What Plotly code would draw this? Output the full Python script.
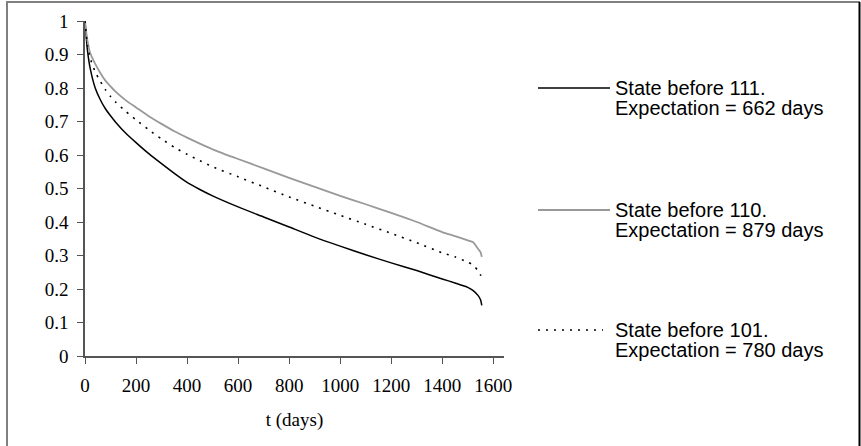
import plotly.graph_objects as go

# ---- data ----
t_days = [0, 5, 10, 20, 40, 60, 80, 100, 120, 160, 200, 250, 300, 350, 400,
          450, 500, 600, 700, 800, 900, 1000, 1100, 1200, 1300, 1400, 1450,
          1500, 1520, 1540, 1550, 1555]
s111 = [1.0, 0.95, 0.91, 0.86, 0.80, 0.765, 0.738, 0.717, 0.698, 0.665, 0.637,
        0.604, 0.574, 0.545, 0.518, 0.497, 0.478, 0.445, 0.415, 0.385, 0.355,
        0.328, 0.302, 0.278, 0.255, 0.23, 0.218, 0.205, 0.196, 0.181, 0.168,
        0.151]
s110 = [1.0, 0.965, 0.94, 0.905, 0.872, 0.845, 0.822, 0.805, 0.789, 0.763,
        0.742, 0.716, 0.693, 0.671, 0.652, 0.634, 0.617, 0.588, 0.56, 0.532,
        0.505, 0.478, 0.453, 0.427, 0.4, 0.37, 0.358, 0.345, 0.34, 0.32, 0.31,
        0.296]
s101 = [1.0, 0.96, 0.925, 0.89, 0.848, 0.82, 0.795, 0.775, 0.758, 0.73, 0.705,
        0.675, 0.648, 0.623, 0.602, 0.583, 0.565, 0.535, 0.505, 0.475, 0.447,
        0.42, 0.393, 0.366, 0.338, 0.308, 0.296, 0.28, 0.272, 0.255, 0.242,
        0.228]

legend_line1 = ["State before 111.", "State before 110.", "State before 101."]
legend_line2 = ["Expectation = 662 days", "Expectation = 879 days",
                "Expectation = 780 days"]
x_ticks = [0, 200, 400, 600, 800, 1000, 1200, 1400, 1600]
y_ticks = [0, 0.1, 0.2, 0.3, 0.4, 0.5, 0.6, 0.7, 0.8, 0.9, 1]
x_title = "t (days)"

# ---- geometry ----
W, H = 861, 446
PL, PR, PT, PB = 85, 504, 21, 356


def px(xp):
    return (xp - PL) / (PR - PL)


def py(yp):
    return (PB - yp) / (PB - PT)


styles = [dict(color="#000000", width=1.5),
          dict(color="#999999", width=1.8),
          dict(color="#000000", width=1.6, dash="2px,6px")]
series = [s111, s110, s101]

fig = go.Figure()
for vals, st, name in zip(series, styles, legend_line1):
    fig.add_trace(go.Scatter(x=t_days, y=vals, mode="lines",
                             line=dict(st, shape="spline", smoothing=0.6),
                             name=name, showlegend=False))

serif = "Liberation Serif, Times New Roman, serif"
sans = "Liberation Sans, Arial, sans-serif"

fig.update_layout(
    width=W, height=H,
    margin=dict(l=PL, r=W - PR, t=PT, b=H - PB, pad=0),
    paper_bgcolor="white", plot_bgcolor="white",
    showlegend=False,
    xaxis=dict(range=[0, 1642], tickvals=x_ticks, ticks="outside", ticklen=6,
               tickwidth=1.2, tickcolor="#555555", showline=True,
               linecolor="#555555", linewidth=1.6, showgrid=False,
               zeroline=False, ticklabelstandoff=5,
               tickfont=dict(family=serif, size=19, color="black"),
               title=dict(text=x_title, standoff=18,
                          font=dict(family=serif, size=19, color="black"))),
    yaxis=dict(range=[0, 1], tickvals=y_ticks, ticks="outside", ticklen=6,
               tickwidth=1.2, tickcolor="#555555", showline=True,
               linecolor="#555555", linewidth=1.6, showgrid=False,
               zeroline=False, ticklabelstandoff=5,
               tickfont=dict(family=serif, size=19, color="black")),
)

# ---- manual legend ----
legend_y = [88, 210, 330]
line_x1 = [610, 610, 603]
for i in range(3):
    st = dict(styles[i])
    fig.add_shape(type="line", xref="paper", yref="paper",
                  x0=px(538), x1=px(line_x1[i]), y0=py(legend_y[i]),
                  y1=py(legend_y[i]), line=st)
    fig.add_annotation(text=legend_line1[i], xref="paper", yref="paper",
                       x=px(613), y=py(legend_y[i] + 0), xanchor="left",
                       yanchor="middle", showarrow=False,
                       font=dict(family=sans, size=20, color="black"))
    fig.add_annotation(text=legend_line2[i], xref="paper", yref="paper",
                       x=px(613), y=py(legend_y[i] + 20), xanchor="left",
                       yanchor="middle", showarrow=False,
                       font=dict(family=sans, size=20, color="black"))

# ---- outer frame ----
fig.add_shape(type="line", xref="paper", yref="paper", x0=px(7), x1=px(7),
              y0=py(2), y1=py(446), line=dict(color="#808080", width=2))
fig.add_shape(type="line", xref="paper", yref="paper", x0=px(6), x1=px(860),
              y0=py(2), y1=py(2), line=dict(color="#808080", width=2))
fig.add_shape(type="line", xref="paper", yref="paper", x0=px(859.5),
              x1=px(859.5), y0=py(2), y1=py(446),
              line=dict(color="#000000", width=2))

fig.write_html("out.html",
               config={"displayModeBar": False},
               post_script="document.body.style.margin='0';"
                           "document.body.style.padding='0';")
